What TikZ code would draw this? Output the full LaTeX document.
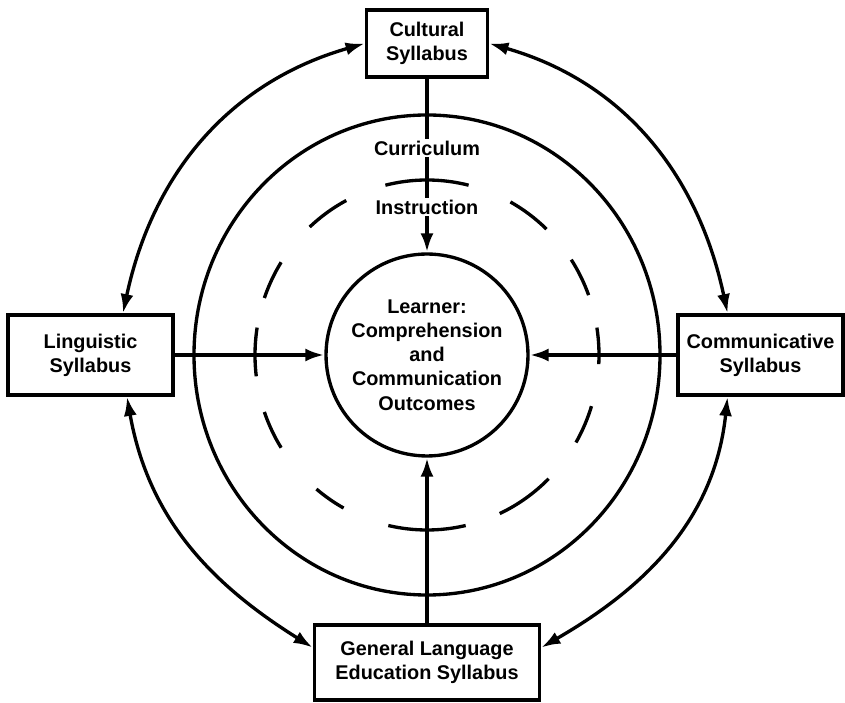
\documentclass[tikz,border=0pt]{standalone}
\usepackage{fontspec}
\setmainfont{Liberation Sans}
\usetikzlibrary{arrows.meta}
\begin{document}
\begin{tikzpicture}[x=0.02cm,y=0.02cm,
  font=\fontsize{11.3}{13.8}\selectfont\bfseries,
  syll/.style={draw,line width=2.2pt,align=center,inner sep=2pt},
  ring/.style={line width=1.9pt},
  link/.style={line width=2.3pt,-{Latex[length=3.8mm,width=2.6mm]}},
  twoway/.style={line width=1.9pt,{Latex[length=3.8mm,width=2.6mm]}-{Latex[length=3.8mm,width=2.6mm]}},
  onpath/.style={fill=white,inner sep=1pt}]
\useasboundingbox (0,0) rectangle (845,703);
\pgfmathsetmacro{\cx}{427}
\pgfmathsetmacro{\cy}{348}
\pgfmathsetmacro{\rxout}{233}
\pgfmathsetmacro{\ryout}{240}
\pgfmathsetmacro{\rxmid}{172}
\pgfmathsetmacro{\rymid}{175}
\coordinate (c) at (\cx,\cy);
  \draw[ring] (c) ellipse [x radius=\rxout, y radius=\ryout];
  \foreach \a/\b in {-3/9,20/33,46/61,76/104,118/133,148/161,171/187,199/212,230/241,257/283,295/315,330/343}
    \draw[ring] ([shift={({\rxmid*cos(\a)},{\rymid*sin(\a)})}]c) arc[start angle=\a,end angle=\b,x radius=\rxmid,y radius=\rymid];
  \node[circle,draw,ring,minimum size=4.04cm,align=center,inner sep=0pt] (learner) at (c) {Learner:\\Comprehension\\and\\Communication\\Outcomes};
  \node[syll,minimum width=2.42cm,minimum height=1.34cm] (cult) at (\cx,659.5) {Cultural\\Syllabus};
  \node[syll,minimum width=3.3cm,minimum height=1.6cm] (ling) at (90.5,\cy) {Linguistic\\Syllabus};
  \node[syll,minimum width=3.3cm,minimum height=1.6cm] (comm) at (760.5,\cy) {Communicative\\Syllabus};
  \node[syll,minimum width=4.5cm,minimum height=1.5cm] (gen) at (\cx,40.5) {General Language\\Education Syllabus};
  \draw[link] (cult) -- node[onpath,pos=0.40] (curr) {Curriculum} node[onpath,pos=0.74] (instr) {Instruction} (learner);
  \draw[link] (ling) -- (learner);
  \draw[link] (comm) -- (learner);
  \draw[link] (gen) -- (learner);
  \draw[twoway] ([xshift=0.65cm]ling.north) to[out=78,in=196] (cult.west);
  \draw[twoway] (cult.east) to[out=-16,in=102] ([xshift=-0.66cm]comm.north);
  \draw[twoway] ([xshift=0.73cm]ling.south) to[out=-80,in=148] ([yshift=0.3cm]gen.west);
  \draw[twoway] ([yshift=0.3cm]gen.east) to[out=30,in=-96] ([xshift=-0.66cm]comm.south);
\end{tikzpicture}
\end{document}
